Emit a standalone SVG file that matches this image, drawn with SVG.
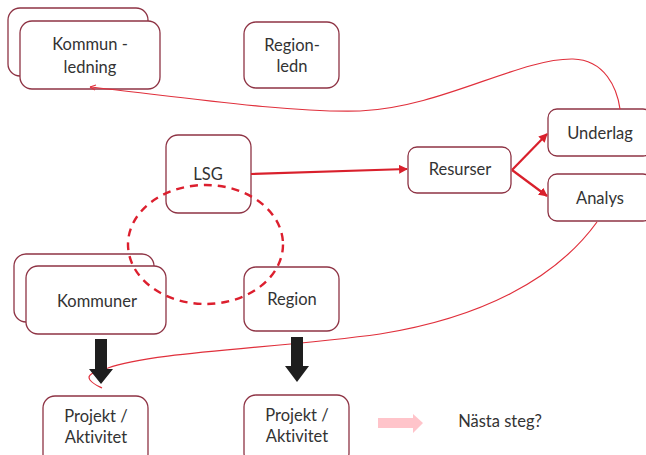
<svg xmlns="http://www.w3.org/2000/svg" width="646" height="455" viewBox="0 0 646 455">
  <defs>
    <style>
      .box { fill: #ffffff; stroke: #8e3344; stroke-width: 1.3; }
      .lbl { font-family: Lato, "Open Sans", "Liberation Sans", sans-serif; font-size: 16.5px; fill: #333333; text-anchor: middle; font-variant-ligatures: none; }
      .thin { fill: none; stroke: #e0303c; stroke-width: 1.2; }
      .link { fill: none; stroke: #d9202c; stroke-width: 2.2; }
      .ring { fill: none; stroke: #dc1f2e; stroke-width: 2.4; stroke-dasharray: 8 6; }
      .block { fill: #1e1e1e; }
    </style>
    <marker id="head" viewBox="0 0 10 10" refX="9" refY="5" markerWidth="4" markerHeight="4" orient="auto" markerUnits="strokeWidth">
      <path d="M0,0 L10,5 L0,10 z" fill="#d9202c"/>
    </marker>
  </defs>

  <!-- nodes -->
  <g id="kommunledning">
    <rect class="box" x="8" y="8" width="140" height="68" rx="12"/>
    <rect class="box" x="20" y="21" width="140" height="68" rx="12"/>
    <text class="lbl" x="90" y="50">Kommun -</text>
    <text class="lbl" x="90" y="73">ledning</text>
  </g>
  <g id="regionledn">
    <rect class="box" x="244" y="22" width="95" height="66" rx="12"/>
    <text class="lbl" x="292" y="51">Region-</text>
    <text class="lbl" x="292" y="72">ledn</text>
  </g>
  <g id="lsg">
    <rect class="box" x="166" y="135" width="85" height="78" rx="12"/>
    <text class="lbl" x="208" y="180">LSG</text>
  </g>
  <g id="resurser">
    <rect class="box" x="408" y="147" width="103" height="46" rx="9"/>
    <text class="lbl" x="460" y="175">Resurser</text>
  </g>
  <g id="underlag">
    <rect class="box" x="548" y="109" width="104" height="47" rx="9"/>
    <text class="lbl" x="600" y="139">Underlag</text>
  </g>
  <g id="analys">
    <rect class="box" x="548" y="174" width="104" height="47" rx="9"/>
    <text class="lbl" x="600" y="204">Analys</text>
  </g>
  <g id="kommuner">
    <rect class="box" x="14" y="254" width="140" height="68" rx="12"/>
    <rect class="box" x="26" y="266" width="140" height="68" rx="12"/>
    <text class="lbl" x="97" y="307">Kommuner</text>
  </g>
  <g id="region">
    <rect class="box" x="244" y="267" width="95" height="64" rx="12"/>
    <text class="lbl" x="292" y="305">Region</text>
  </g>
  <g id="projekt1">
    <rect class="box" x="43" y="396" width="105" height="70" rx="12"/>
    <text class="lbl" x="96" y="422">Projekt /</text>
    <text class="lbl" x="96" y="443">Aktivitet</text>
  </g>
  <g id="projekt2">
    <rect class="box" x="244" y="395" width="105" height="70" rx="12"/>
    <text class="lbl" x="297" y="421">Projekt /</text>
    <text class="lbl" x="297" y="442">Aktivitet</text>
  </g>
  <g id="nasta">
    <polygon points="378,418 413,418 413,414 423,423 413,433 413,428 378,428" fill="#ffc4ca"/>
    <text class="lbl" x="500" y="427">Nästa steg?</text>
  </g>

  <!-- connectors -->
  <g id="connectors">
    <ellipse class="ring" cx="205.5" cy="244.5" rx="77.5" ry="59.5"/>
    <line class="link" x1="251" y1="174" x2="407" y2="169" marker-end="url(#head)"/>
    <line class="link" x1="512" y1="170" x2="547" y2="134" marker-end="url(#head)"/>
    <line class="link" x1="512" y1="170" x2="547" y2="196" marker-end="url(#head)"/>
    <path class="thin" d="M620,109 C617,88 605,60 573,59 C520,58 440,108 360,111 C290,113 180,97 90,87"/>
    <path class="thin" d="M90,87 L96,85 M90,87 L95,90"/>
    <path class="thin" d="M597,222 C555,280 480,318 380,334 C280,348 150,352 108,368 C95,372 86,374 90,380 C93,384 98,386 102,388"/>
    <polygon class="block" points="95,339 107,339 107,369 113,369 101,384 89,369 95,369"/>
    <polygon class="block" points="291,337 303,337 303,366 309,366 297,382 285,366 291,366"/>
  </g>
</svg>
